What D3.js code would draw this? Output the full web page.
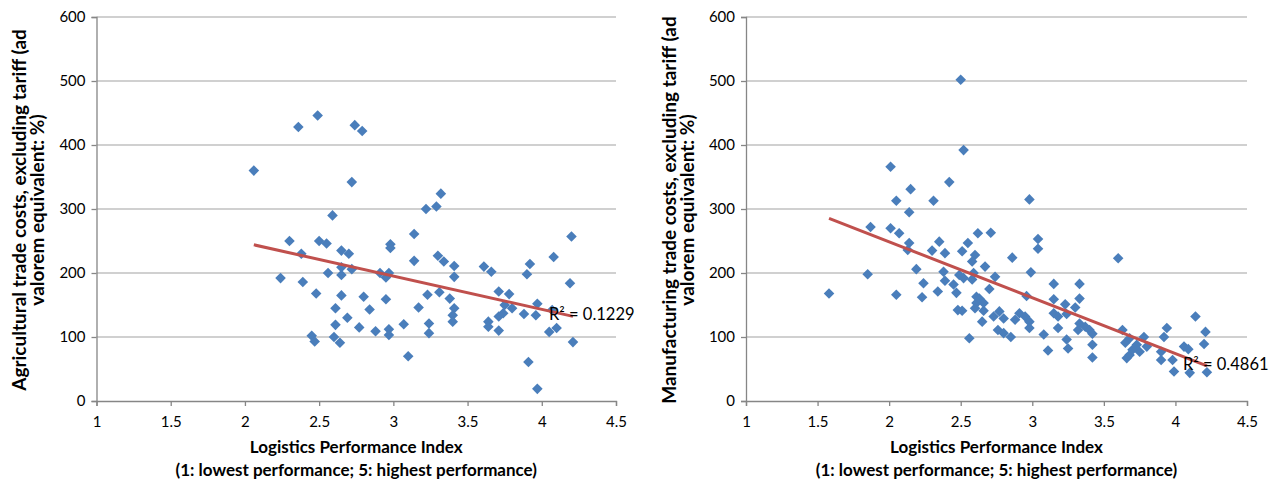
<!DOCTYPE html>
<html>
<head>
<meta charset="utf-8">
<script src="https://cdn.jsdelivr.net/npm/d3@7"></script>
<style>
body { margin: 0; background: #fff; }
text { font-family: Lato, "Open Sans", sans-serif; fill: #000; }
</style>
</head>
<body>
<svg width="1283" height="486"></svg>
<script>
const width = 1283
const height = 486

// [LPI, trade cost]
const agriData = [
 [2.06,360],[2.36,428],[2.49,446],[2.74,431],[2.79,422],[2.72,342],[2.59,290],[3.22,300],[3.29,304],[3.32,324],
 [2.30,250],[2.50,250],[2.55,246],[2.38,230],[2.65,235],[2.70,230],[2.98,245],[2.98,239],[3.14,261],[3.14,219],
 [3.30,227],[2.24,192],[2.39,186],[2.56,200],[2.65,197],[2.65,209],[2.72,206],[2.91,200],[2.95,193],[2.97,200],
 [2.48,168],[2.65,165],[2.80,163],[2.95,159],[3.23,166],[3.31,170],[2.61,145],[2.84,143],[3.17,146],[2.69,130],
 [2.61,119],[2.77,115],[2.88,109],[2.97,112],[2.97,103],[3.07,120],[3.24,121],[3.24,106],[2.45,102],[2.47,93],
 [2.60,100],[2.64,91],[3.10,70],[4.20,257],[4.08,225],[3.34,218],[3.41,211],[3.41,194],[3.61,210],[3.66,202],
 [3.92,214],[3.90,198],[4.19,184],[3.38,160],[3.41,145],[3.40,134],[3.40,124],[3.71,171],[3.78,167],[3.75,150],
 [3.80,145],[3.71,132],[3.74,137],[3.64,124],[3.64,116],[3.71,110],[3.88,136],[3.96,134],[3.97,152],[4.07,142],
 [4.05,108],[4.10,114],[4.21,92],[3.91,61],[3.97,19]
]
const manuData = [
 [2.50,502],[2.52,392],[2.01,366],[2.15,331],[2.42,342],[2.05,313],[2.31,313],[2.14,295],[1.87,272],[2.01,270],
 [2.07,262],[2.14,247],[2.13,236],[2.35,249],[2.30,235],[2.39,231],[2.51,234],[2.55,247],[2.62,262],[2.71,263],
 [2.60,228],[2.58,218],[2.67,210],[1.85,198],[1.58,168],[2.05,166],[2.19,206],[2.24,184],[2.23,162],[2.34,171],
 [2.38,202],[2.39,188],[2.45,182],[2.47,169],[2.49,197],[2.52,192],[2.58,190],[2.59,200],[2.70,175],[2.48,142],
 [2.51,141],[2.61,163],[2.61,153],[2.60,145],[2.66,141],[2.65,124],[2.56,98],[2.98,315],[3.04,253],[3.04,238],
 [2.86,224],[2.99,201],[2.74,194],[2.63,160],[2.66,153],[2.73,132],[2.77,140],[2.80,129],[2.76,111],[2.80,106],
 [2.85,100],[2.88,127],[2.91,137],[2.95,132],[2.98,124],[2.98,114],[2.96,164],[3.08,104],[3.11,79],[3.15,183],
 [3.15,159],[3.15,137],[3.18,132],[3.18,114],[3.23,151],[3.24,136],[3.24,96],[3.25,82],[3.30,146],[3.33,183],
 [3.33,160],[3.33,121],[3.32,111],[3.37,116],[3.40,111],[3.42,105],[3.42,88],[3.42,68],[3.60,223],[3.63,111],
 [3.65,91],[3.68,98],[3.66,67],[3.68,72],[3.73,88],[3.75,77],[3.78,100],[3.80,85],[3.70,80],[3.90,64],
 [3.92,100],[3.94,114],[3.90,77],[3.98,64],[3.99,46],[4.06,85],[4.09,81],[4.10,44],[4.14,132],[4.21,108],
 [4.20,89],[4.22,45]
]
const xTicks = [1, 1.5, 2, 2.5, 3, 3.5, 4, 4.5]
const yTicks = [0, 100, 200, 300, 400, 500, 600]
const xTitle = ["Logistics Performance Index", "(1: lowest performance; 5: highest performance)"]
const agriTitle = ["Agricultural trade costs, excluding tariff (ad", "valorem equivalent: %)"]
const manuTitle = ["Manufacturing trade costs, excluding tariff (ad", "valorem equivalent: %)"]
const agriR2 = "R² = 0.1229"
const manuR2 = "R² = 0.4861"

const svg = d3.select("svg")

function fit(data){
    var mx = d3.mean(data, d => d[0]), my = d3.mean(data, d => d[1])
    var sxy = d3.sum(data, d => (d[0]-mx)*(d[1]-my))
    var sxx = d3.sum(data, d => (d[0]-mx)*(d[0]-mx))
    var b = sxy/sxx
    return {a: my - b*mx, b: b}
}

function panel(data, x0, x1, yTitle, r2){
    var scaleX = d3.scaleLinear().domain([1,4.5]).range([x0, x1])
    var scaleY = d3.scaleLinear().domain([0,600]).range([401, 17])
    var g = svg.append("g")

    // gridlines
    g.append("g").selectAll("line").data(yTicks.slice(1)).enter().append("line")
      .attr("x1", x0).attr("x2", x1)
      .attr("y1", d => scaleY(d)).attr("y2", d => scaleY(d))
      .attr("stroke", "#c0c0c0").attr("stroke-width", 1.3)

    var ax = g.append("g").attr("transform", "translate(0,401)")
      .call(d3.axisBottom(scaleX).tickValues(xTicks).tickSize(5).tickPadding(10).tickFormat(d3.format("")))
    var ay = g.append("g").attr("transform", "translate(" + x0 + ",0)")
      .call(d3.axisLeft(scaleY).tickValues(yTicks).tickSize(5).tickPadding(6))
    ;[ax, ay].forEach(function(a){
        a.select(".domain").attr("stroke", "#868686").attr("stroke-width", 1.3)
        a.selectAll(".tick line").attr("stroke", "#868686").attr("stroke-width", 1.3)
        a.selectAll("text").style("font-size", "15px").style("font-family", "Lato, sans-serif").attr("fill", "#000")
    })

    // points
    var diamond = d3.symbol(d3.symbolSquare, 56)
    g.append("g").selectAll("path").data(data).enter().append("path")
      .attr("d", diamond)
      .attr("transform", d => "translate(" + scaleX(d[0]) + "," + scaleY(d[1]) + ") rotate(45)")
      .attr("fill", "#4a7ebb")

    // trend line
    var f = fit(data)
    var ext = d3.extent(data, d => d[0])
    var line = d3.line().x(d => scaleX(d)).y(d => scaleY(f.a + f.b*d))
    g.append("path").attr("d", line(ext)).attr("fill", "none")
      .attr("stroke", "#c0504d").attr("stroke-width", 3)
    var endX = scaleX(ext[1]), endY = scaleY(f.a + f.b*ext[1])
    g.append("text").attr("x", endX - 24).attr("y", endY + 4)
      .style("font-size", "16.5px").text(r2)

    // titles
    var cx = (x0 + x1) / 2
    g.append("text").attr("x", cx).attr("y", 453).attr("text-anchor", "middle")
      .style("font-size", "17px").style("font-weight", "bold").text(xTitle[0])
    g.append("text").attr("x", cx).attr("y", 476).attr("text-anchor", "middle")
      .style("font-size", "17px").style("font-weight", "bold").text(xTitle[1])
    yTitle.forEach(function(t, i){
        var tx = x0 - 70.5 + i*18
        g.append("text").attr("transform", "translate(" + tx + ",210) rotate(-90)")
          .attr("text-anchor", "middle").style("font-size", "19px").style("font-weight", "bold").text(t)
    })
}

panel(agriData, 96.5, 616, agriTitle, agriR2)
panel(manuData, 746, 1247, manuTitle, manuR2)
</script>
</body>
</html>
